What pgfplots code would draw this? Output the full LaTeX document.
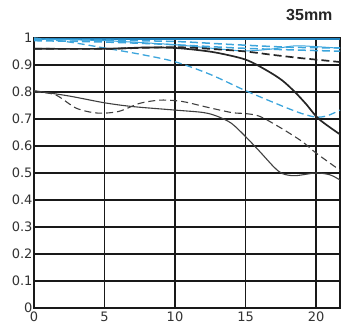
\documentclass[border=0pt]{standalone}
\usepackage{pgfplots}
\pgfplotsset{compat=1.18}
\usepackage{fontspec}
\setmainfont{DejaVu Sans}
\newfontfamily\titlefont{Liberation Sans}
\definecolor{mblue}{RGB}{60,165,220}
\definecolor{dblue}{RGB}{30,130,190}
\definecolor{lab}{RGB}{50,50,50}
\begin{document}
\begin{tikzpicture}[x=1pt,y=1pt]
\useasboundingbox (0,0) rectangle (363,334);
\begin{axis}[
  at={(34pt,26pt)}, anchor=south west,
  scale only axis, width=306pt, height=270pt,
  xmin=0, xmax=21.7, ymin=0, ymax=1,
  xtick={0,5,10,15,20},
  ytick={0,0.1,0.2,0.3,0.4,0.5,0.6,0.7,0.8,0.9,1},
  yticklabels={0,0.1,0.2,0.3,0.4,0.5,0.6,0.7,0.8,0.9,1},
  major tick length=0pt,
  grid=major,
  grid style={black!90, line width=1.1pt},
  axis line style={black!90, line width=1.1pt},
  tick label style={font=\fontsize{13}{13}\selectfont, text=lab},
  /pgf/number format/assume math mode=true,
  xticklabel style={yshift=-0.5pt},
  yticklabel style={xshift=2pt},
  clip=true,
]
% blue thick solid
\addplot[dblue, line width=1.6pt, smooth] coordinates {(0,0.997)(5,0.997)(10,0.997)(15,0.997)(20,0.997)(21.7,0.997)};
% blue dashed A
\addplot[mblue, line width=1.5pt, dash pattern=on 8pt off 4pt, smooth] coordinates {(0,0.995)(5,0.992)(10,0.987)(14,0.976)(18,0.966)(21.7,0.963)};
% blue dashed B
\addplot[mblue, line width=1.5pt, dash pattern=on 8pt off 4pt, smooth] coordinates {(0,0.99)(5,0.985)(10,0.975)(14,0.964)(17,0.958)(21.7,0.951)};
% blue thin solid
\addplot[mblue, line width=1.0pt, smooth] coordinates {(0,0.996)(5,0.99)(10,0.975)(13,0.96)(15,0.952)(17,0.96)(18.5,0.971)(20,0.968)(21.7,0.962)};
% blue thin dashed
\addplot[mblue, line width=1.3pt, dash pattern=on 7pt off 4pt, smooth] coordinates {(0,1.0)(2.5,0.985)(5,0.963)(7.5,0.94)(10,0.912)(12.5,0.865)(15,0.805)(17.6,0.748)(19,0.72)(20,0.707)(20.8,0.712)(21.7,0.733)};
% black thick solid
\addplot[black!85, line width=1.7pt, smooth] coordinates {(0,0.96)(5,0.96)(8,0.965)(10,0.963)(11.5,0.956)(13,0.945)(15,0.92)(16.5,0.88)(17.6,0.843)(18.5,0.80)(19.3,0.755)(20.2,0.70)(21.7,0.643)};
% black thick dashed
\addplot[black!85, line width=1.7pt, dash pattern=on 8pt off 4pt, smooth] coordinates {(0,0.96)(5,0.96)(10,0.966)(13,0.958)(15,0.95)(17,0.937)(19,0.925)(20,0.92)(21.7,0.911)};
% black thin solid
\addplot[black!75, line width=1.1pt, smooth] coordinates {(0,0.805)(2.5,0.785)(5,0.76)(7,0.746)(10,0.733)(12,0.724)(13,0.71)(14,0.684)(15,0.635)(16,0.58)(17,0.523)(17.6,0.498)(18.5,0.49)(20,0.50)(21,0.493)(21.7,0.474)};
% black thin dashed
\addplot[black!75, line width=1.1pt, dash pattern=on 7pt off 4pt, smooth] coordinates {(0,0.80)(1.5,0.79)(3,0.74)(4.5,0.722)(6,0.728)(7.5,0.758)(9,0.77)(10.5,0.765)(12,0.747)(14,0.724)(15,0.72)(16,0.71)(17.5,0.667)(19,0.617)(20,0.574)(21.7,0.51)};
\end{axis}
\node[anchor=east, font=\titlefont\bfseries\fontsize{16}{16}\selectfont, text=black!85] at (336,319) {35mm};
\end{tikzpicture}
\end{document}
